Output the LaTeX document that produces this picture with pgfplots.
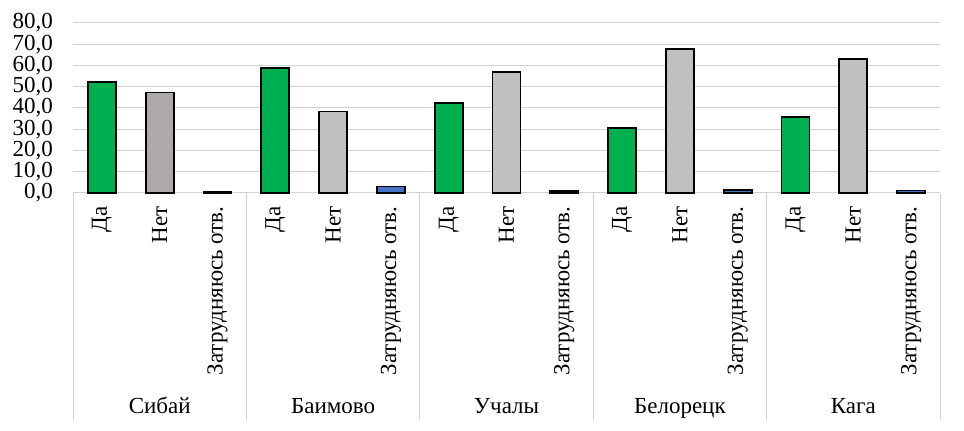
\documentclass[border=0pt]{standalone}
\usepackage{pgfplots}
\pgfplotsset{compat=1.18}
\usepackage{fontspec}
\setmainfont{Liberation Serif}
\definecolor{da}{RGB}{0,176,80}
\definecolor{net}{RGB}{192,192,192}
\definecolor{netS}{RGB}{174,170,170}
\definecolor{zat}{RGB}{68,114,196}
\definecolor{grd}{RGB}{210,210,210}
\begin{document}
\begin{tikzpicture}[font=\fontsize{23bp}{27bp}\selectfont]
\begin{axis}[
    scale only axis,
    width=867bp, height=170bp,
    xmin=-0.5, xmax=14.5,
    ymin=0, ymax=80,
    ytick={0,10,...,80},
    ymajorgrids, grid style={grd, line width=1bp},
    axis line style={draw=none},
    major tick length=0pt,
    xtick={0,...,14},
    xticklabels={Да,Нет,Затрудняюсь отв.,Да,Нет,Затрудняюсь отв.,Да,Нет,Затрудняюсь отв.,Да,Нет,Затрудняюсь отв.,Да,Нет,Затрудняюсь отв.},
    xticklabel style={rotate=90, anchor=east},
    xticklabel shift=10bp,
    yticklabel style={anchor=east, inner sep=0pt, xshift=-20bp},
    /pgf/number format/.cd, fixed, fixed zerofill, precision=1, use comma, assume math mode=true,
    /pgfplots/.cd,
    ybar, bar width=28bp, bar shift=0pt,
    every axis plot/.append style={draw=black, line width=1.7bp},
    clip=false,
]
\addplot[fill=da] coordinates {(0,52.2) (3,58.8) (6,42.2) (9,30.5) (12,35.8)};
\addplot[fill=netS] coordinates {(1,47.2)};
\addplot[fill=net] coordinates {(4,38.3) (7,57.0) (10,67.8) (13,63.1)};
\addplot[fill=zat] coordinates {(2,0.6) (5,3.0) (8,0.8) (11,1.5) (14,1.1)};
\draw[grd, line width=1bp] (axis cs:-0.5,0) -- (axis cs:-0.5,-107);
\draw[grd, line width=1bp] (axis cs:2.5,0) -- (axis cs:2.5,-107);
\draw[grd, line width=1bp] (axis cs:5.5,0) -- (axis cs:5.5,-107);
\draw[grd, line width=1bp] (axis cs:8.5,0) -- (axis cs:8.5,-107);
\draw[grd, line width=1bp] (axis cs:11.5,0) -- (axis cs:11.5,-107);
\draw[grd, line width=1bp] (axis cs:14.5,0) -- (axis cs:14.5,-107);
\node[anchor=base] at (axis cs:1,-104) {Сибай};
\node[anchor=base] at (axis cs:4,-104) {Баимово};
\node[anchor=base] at (axis cs:7,-104) {Учалы};
\node[anchor=base] at (axis cs:10,-104) {Белорецк};
\node[anchor=base] at (axis cs:13,-104) {Кага};
\path (axis cs:-1.763,-112) rectangle (axis cs:14.915,90.8);
\end{axis}
\end{tikzpicture}
\end{document}
